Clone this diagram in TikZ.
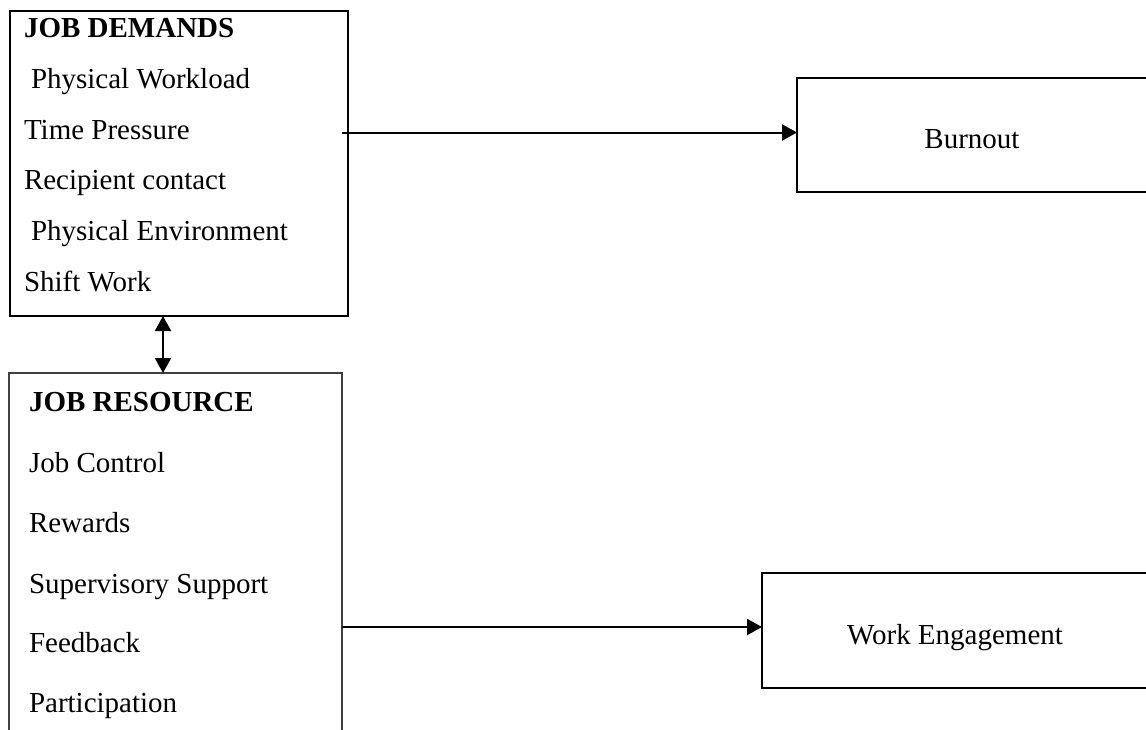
\documentclass[tikz,border=0pt]{standalone}
\usepackage{fontspec}
\setmainfont{Liberation Serif}
\usetikzlibrary{arrows.meta,calc}
\begin{document}
\begin{tikzpicture}[x=1pt,y=-1pt,
  every node/.style={font=\fontsize{29}{34}\selectfont, inner sep=0pt, outer sep=0pt},
  frame/.style={draw=black, line width=2.4pt, rectangle, anchor=north west},
  thinframe/.style={draw=black!75, line width=1.4pt, rectangle, anchor=north west},
  item/.style={anchor=base west},
  head/.style={anchor=base west, font=\fontsize{29}{34}\selectfont\bfseries},
  link/.style={line width=2pt, -{Triangle[length=15pt,width=16pt]}},
  duallink/.style={line width=2pt, {Triangle[length=15pt,width=16pt]}-{Triangle[length=15pt,width=16pt]}}
]
\useasboundingbox (0,0) rectangle (1146,729);
\clip (0,0) rectangle (1146,729);

% job demands box and its items
\node[frame, minimum width=338pt, minimum height=305pt] (dem) at (10,11) {};
\node[head] (dh) at (24,37)  {JOB DEMANDS};
\node[item] (d1) at (31,88)  {Physical Workload};
\node[item] (d2) at (24,139) {Time Pressure};
\node[item] (d3) at (24,189.5) {Recipient contact};
\node[item] (d4) at (31,240) {Physical Environment};
\node[item] (d5) at (24,291) {Shift Work};

% job resources box (runs past the lower edge)
\node[thinframe, minimum width=333pt, minimum height=400pt] (res) at (9,373) {};
\node[head] (rh) at (29,411) {JOB RESOURCE};
\node[item] (r1) at (29,472) {Job Control};
\node[item] (r2) at (29,532) {Rewards};
\node[item] (r3) at (29,593) {Supervisory Support};
\node[item] (r4) at (29,652) {Feedback};
\node[item] (r5) at (29,712) {Participation};

% outcome boxes (run past the right edge)
\node[frame, minimum width=370pt, minimum height=114pt] (bur) at (797,78) {};
\node[anchor=base] (burt) at (972,148) {Burnout};
\node[frame, minimum width=400pt, minimum height=115pt] (we) at (762,573) {};
\node[anchor=base] (wet) at (955,644) {Work Engagement};

% connectors
\coordinate (a1) at ([xshift=-6pt,yshift=31pt]dem.east);
\draw[link] (a1) -- (a1 -| bur.west);
\coordinate (a2) at ([yshift=-54pt]res.east);
\draw[link] (a2) -- (a2 -| we.west);
\draw[duallink] ([xshift=153pt]dem.south west) -- ([xshift=154pt]res.north west);
\end{tikzpicture}
\end{document}
